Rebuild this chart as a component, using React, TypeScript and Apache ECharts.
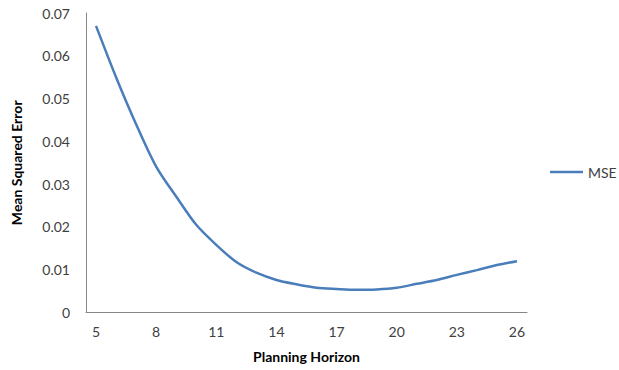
import React, { useEffect, useRef } from "react";
import * as echarts from "echarts";

const horizons = ["5","6","7","8","9","10","11","12","13","14","15","16","17","18","19","20","21","22","23","24","25","26"];
const mseValues = [0.067, 0.055, 0.044, 0.0341, 0.0271, 0.0205, 0.0158, 0.0118, 0.0093, 0.0076, 0.0066, 0.0058, 0.0055, 0.0053, 0.0054, 0.0058, 0.0067, 0.0076, 0.0088, 0.0099, 0.0111, 0.012];
const seriesName = "MSE";
const xTitle = "Planning Horizon";
const yTitle = "Mean Squared Error";

export default function App() {
  const ref = useRef<HTMLDivElement>(null);
  useEffect(() => {
    if (!ref.current) return;
    const chart = echarts.init(ref.current, null, { renderer: "svg" });
    const font = "Lato, 'Liberation Sans', sans-serif";
    chart.setOption({
      animation: false,
      backgroundColor: "#ffffff",
      textStyle: { fontFamily: font },
      grid: { left: 86, right: 92, top: 13, bottom: 57.5 },
      legend: {
        orient: "vertical",
        left: 545,
        top: 160,
        itemWidth: 33,
        itemHeight: 10,
        itemGap: 4,
        textStyle: { fontSize: 14, color: "#404040", fontFamily: font },
        data: [{ name: seriesName, icon: "path://M0,4L33,4L33,6.5L0,6.5Z" }],
      },
      xAxis: {
        type: "category",
        data: horizons,
        boundaryGap: true,
        name: xTitle,
        nameLocation: "middle",
        nameGap: 37,
        nameTextStyle: { fontSize: 14, fontWeight: "bold", color: "#000" },
        axisLine: { lineStyle: { color: "#868686", width: 1 } },
        axisTick: { show: false },
        axisLabel: { interval: 2, fontSize: 14, color: "#404040", margin: 12 },
        splitLine: { show: false },
      },
      yAxis: {
        type: "value",
        min: 0,
        max: 0.07,
        interval: 0.01,
        name: yTitle,
        nameLocation: "middle",
        nameGap: 63,
        nameRotate: 90,
        nameTextStyle: { fontSize: 14, fontWeight: "bold", color: "#000" },
        axisLine: { show: true, lineStyle: { color: "#868686", width: 1 } },
        axisTick: { show: false },
        axisLabel: {
          fontSize: 14,
          color: "#404040",
          margin: 16,
          formatter: (v: number) => (v === 0 ? "0" : v.toFixed(2)),
        },
        splitLine: { show: false },
      },
      series: [
        {
          name: seriesName,
          type: "line",
          data: mseValues,
          showSymbol: false,
          symbol: "none",
          smooth: 0.3,
          lineStyle: { color: "#4a7ebb", width: 2.5 },
          itemStyle: { color: "#4a7ebb" },
        },
      ],
    });
    return () => chart.dispose();
  }, []);
  return (
    <div
      ref={ref}
      style={{ position: "absolute", left: 0, top: 0, width: 619, height: 370 }}
    />
  );
}
